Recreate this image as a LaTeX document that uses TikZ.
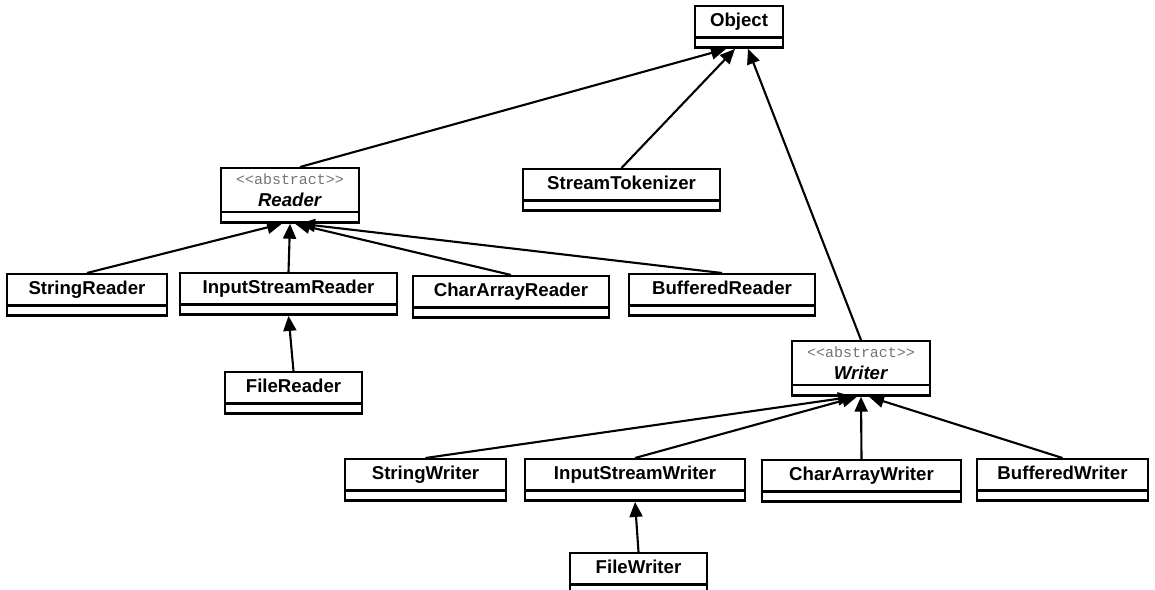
\documentclass[tikz,border=0pt]{standalone}
\usepackage{fontspec}
\newfontfamily\classfont{Liberation Sans}
\newfontfamily\stereofont{Liberation Mono}
\usetikzlibrary{shapes.multipart, arrows.meta, calc}
\def\boxline{1.4pt}
\tikzstyle{inherit} = [line width=1.2pt, -{Triangle[length=0.3cm, width=0.26cm]}]
\newcommand{\abstractclass}[1]{{\stereofont\mdseries\fontsize{8.5}{9.5}\selectfont\color{black!55}<{}<abstract>{}>}\\[1pt]\textit{#1}}

\begin{document}
\begin{tikzpicture}[x=0.02cm, y=-0.02cm]
    \tikzstyle{class}=[rectangle split, rectangle split parts=2, draw, line width=\boxline,
        inner xsep=0pt, inner ysep=2.2pt, align=center, anchor=north,
        font=\classfont\bfseries\fontsize{10.6}{12}\selectfont,
        rectangle split empty part height=1.2pt, rectangle split empty part depth=0pt]
    \useasboundingbox (0,0) rectangle (1155,590);

    % Draw the root class
    \node[class, text width=1.76cm] (object) at (739,5) {\strut Object \nodepart{two}};

    % Draw the second row
    \node[class, text width=2.76cm] (reader) at (290,167) {\abstractclass{Reader} \nodepart{two}};
    \node[class, text width=3.94cm] (tokenizer) at (621.5,168) {\strut StreamTokenizer \nodepart{two}};

    % Draw the reader classes
    \node[class, text width=3.2cm] (stringreader) at (87,273) {\strut StringReader \nodepart{two}};
    \node[class, text width=4.34cm] (inputstreamreader) at (288.5,272) {\strut InputStreamReader \nodepart{two}};
    \node[class, text width=3.92cm] (chararrayreader) at (511,275) {\strut CharArrayReader \nodepart{two}};
    \node[class, text width=3.72cm] (bufferedreader) at (722,273) {\strut BufferedReader \nodepart{two}};
    \node[class, text width=2.74cm] (filereader) at (293.5,371) {\strut FileReader \nodepart{two}};

    % Draw the writer classes
    \node[class, text width=2.76cm] (writer) at (861,340) {\abstractclass{Writer} \nodepart{two}};
    \node[class, text width=3.22cm] (stringwriter) at (425.5,458) {\strut StringWriter \nodepart{two}};
    \node[class, text width=4.4cm] (inputstreamwriter) at (635,458) {\strut InputStreamWriter \nodepart{two}};
    \node[class, text width=3.98cm] (chararraywriter) at (861.5,459) {\strut CharArrayWriter \nodepart{two}};
    \node[class, text width=3.42cm] (bufferedwriter) at (1062.5,458) {\strut BufferedWriter \nodepart{two}};
    \node[class, text width=2.74cm] (filewriter) at (638.5,552) {\strut FileWriter \nodepart{two}};

    % Draw the inheritance arrows
    \draw[inherit] ($(reader.north)+(10,0)$) -- ($(object.south)+(-13,0)$);
    \draw[inherit] (tokenizer.north) -- ($(object.south)+(-4,0)$);
    \draw[inherit] (writer.north) -- ($(object.south)+(9,0)$);

    \draw[inherit] (stringreader.north) -- ($(reader.south)+(-8,0)$);
    \draw[inherit] (inputstreamreader.north) -- ($(reader.south)+(0,0)$);
    \draw[inherit] (chararrayreader.north) -- ($(reader.south)+(5,0)$);
    \draw[inherit] (bufferedreader.north) -- ($(reader.south)+(10,0)$);
    \draw[inherit] (filereader.north) -- (inputstreamreader.south);

    \draw[inherit] (stringwriter.north) -- ($(writer.south)+(-8,0)$);
    \draw[inherit] (inputstreamwriter.north) -- ($(writer.south)+(-4,0)$);
    \draw[inherit] (chararraywriter.north) -- (writer.south);
    \draw[inherit] (bufferedwriter.north) -- ($(writer.south)+(8,0)$);
    \draw[inherit] (filewriter.north) -- (inputstreamwriter.south);
\end{tikzpicture}
\end{document}
